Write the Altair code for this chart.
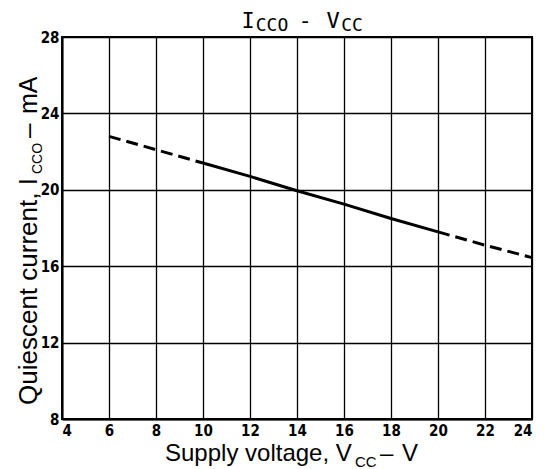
import altair as alt
import pandas as pd

# ---- data ----
supply_v = [6, 8, 10, 12, 14, 16, 18, 20, 22, 24]
icco_ma = [22.8, 22.1, 21.4, 20.7, 19.95, 19.25, 18.5, 17.8, 17.1, 16.45]
segment = ["lo", "lo", "lo", "mid", "mid", "mid", "mid", "mid", "hi", "hi"]

x_ticks = [4, 6, 8, 10, 12, 14, 16, 18, 20, 22, 24]
y_ticks = [8, 12, 16, 20, 24, 28]

rows = []
for xv, yv, s in zip(supply_v, icco_ma, segment):
    rows.append({"v": xv, "i": yv, "seg": s})
# repeat boundary points so the segments join
rows.append({"v": 10, "i": 21.4, "seg": "mid"})
rows.append({"v": 20, "i": 17.8, "seg": "hi"})
df = pd.DataFrame(rows)

W, H = 470, 382

xs = alt.Scale(domain=[4, 24], nice=False, zero=False)
ys = alt.Scale(domain=[8, 28], nice=False, zero=False)

lab_font = "DejaVu Sans Condensed, Liberation Sans Narrow, DejaVu Sans"
xax = alt.Axis(values=x_ticks, title=None, grid=True, ticks=False, labelPadding=4,
               labelFontSize=15, labelFontWeight="bold", labelColor="black",
               labelFont=lab_font)
yax = alt.Axis(values=y_ticks, title=None, grid=True, ticks=False, labelPadding=3,
               labelFontSize=15, labelFontWeight="bold", labelColor="black",
               labelFont=lab_font)

base = alt.Chart(df)

solid = base.transform_filter(alt.datum.seg == "mid").mark_line(
    color="black", strokeWidth=3
).encode(
    x=alt.X("v:Q", scale=xs, axis=xax),
    y=alt.Y("i:Q", scale=ys, axis=yax),
    order="v:Q",
)

dashed = base.transform_filter(alt.datum.seg != "mid").mark_line(
    color="black", strokeWidth=3, strokeDash=[12, 6]
).encode(
    x=alt.X("v:Q", scale=xs),
    y=alt.Y("i:Q", scale=ys),
    detail="seg:N",
    order="v:Q",
)

one = pd.DataFrame({"k": [0]})


def label(txt, px, py, size, font, angle=0, align="left"):
    m = dict(fontSize=size, font=font, color="black", align=align, baseline="alphabetic")
    if angle:
        m["angle"] = angle
    return alt.Chart(one).mark_text(**m).encode(
        x=alt.value(px), y=alt.value(py), text=alt.value(txt)
    )


mono = "DejaVu Sans Mono"
sans = "Liberation Sans, Arial, Helvetica"

texts = [
    # title  I_CCO - V_CC
    label("I", 186, -9, 22, mono, align="center"),
    label("CCO", 210, -6, 18, mono, align="center"),
    label("-", 243, -9, 22, mono, align="center"),
    label("V", 271, -9, 22, mono, align="center"),
    label("CC", 290, -6, 18, mono, align="center"),
    # x axis title
    label("Supply voltage, V", 103, 424, 24, sans),
    label("CC", 293, 430, 15, sans),
    label("\u2013", 318, 424, 24, sans),
    label("V", 340, 424, 24, sans),
    # y axis title
    label("Quiescent current, I", -25, 368, 26, sans, angle=270),
    label("CCO", -20, 137, 14, sans, angle=270),
    label("\u2013", -25, 101, 26, sans, angle=270),
    label("mA", -25, 77, 25, sans, angle=270),
]

chart = alt.layer(solid, dashed, *texts).properties(
    width=W, height=H,
    autosize=alt.AutoSizeParams(type="none"),
    padding={"left": 54, "top": 29, "right": 4, "bottom": 50},
).configure_view(
    stroke="black", strokeWidth=2
).configure_axis(
    domainColor="black", domainWidth=2, gridColor="black", gridWidth=1.3, gridOpacity=1
)

chart.save("out.html", embed_options={"renderer": "svg", "actions": False})
